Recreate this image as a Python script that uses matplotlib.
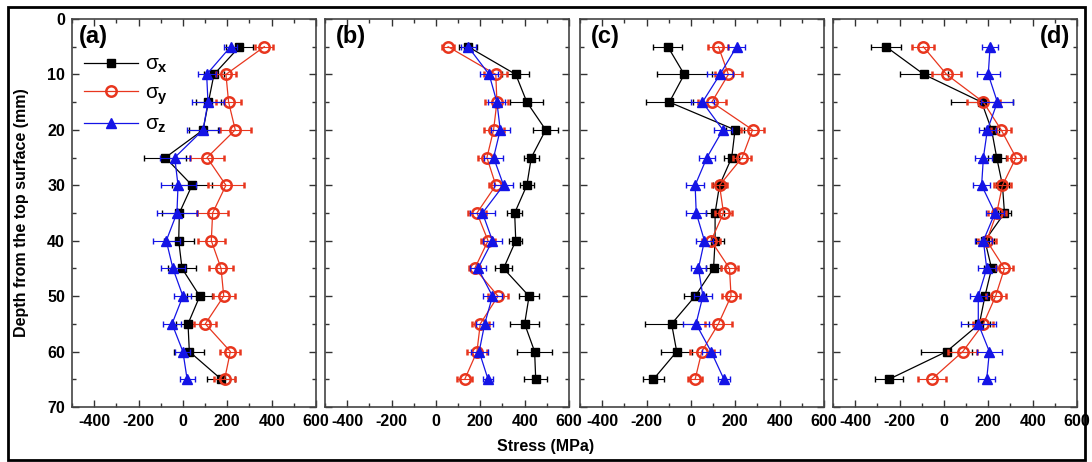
import numpy as np
import matplotlib
matplotlib.use('Agg')
import matplotlib.pyplot as plt
from matplotlib.patches import Rectangle
from matplotlib.lines import Line2D

plt.rcParams['font.family'] = ['Liberation Sans', 'DejaVu Sans']
plt.rcParams['axes.unicode_minus'] = False
plt.rcParams['mathtext.fontset'] = 'custom'
plt.rcParams['mathtext.rm'] = 'Liberation Sans'
plt.rcParams['mathtext.it'] = 'Liberation Sans'
plt.rcParams['mathtext.bf'] = 'Liberation Sans:bold'

# ── Data (MPa), depth in mm ───────────────────────────────────────────────────
depth = [5, 10, 15, 20, 25, 30, 35, 40, 45, 50, 55, 60, 65]

a_sx = [255, 140, 115, 91, -79, 41, -16, -19, -4, 76, 23, 29, 173]
a_sy = [367, 194, 206, 236, 109, 194, 134, 128, 172, 184, 101, 214, 188]
a_sz = [215, 107, 113, 91, -37, -22, -27, -75, -45, 0, -49, 0, 19]
a_ex = [60, 45, 55, 65, 95, 90, 80, 68, 64, 56, 53, 68, 64]
a_ey = [40, 45, 56, 71, 75, 83, 71, 62, 56, 49, 49, 45, 49]
a_ez = [30, 40, 70, 71, 68, 79, 90, 62, 54, 38, 41, 34, 34]

b_sx = [145, 360, 410, 495, 430, 410, 355, 360, 305, 420, 400, 445, 450]
b_sy = [55, 270, 275, 260, 230, 270, 185, 235, 175, 280, 200, 185, 130]
b_sz = [145, 240, 275, 290, 260, 305, 210, 255, 190, 255, 220, 195, 235]
b_ex = [40, 60, 75, 57, 34, 30, 34, 30, 38, 47, 64, 78, 52]
b_ey = [28, 52, 52, 45, 38, 30, 42, 30, 25, 45, 38, 45, 33]
b_ez = [34, 42, 38, 42, 42, 42, 57, 42, 38, 42, 38, 38, 22]

c_sx = [-104, -30, -97, 199, 184, 129, 109, 109, 102, 19, -87, -64, -169]
c_sy = [124, 169, 94, 278, 231, 129, 147, 91, 174, 181, 124, 49, 19]
c_sz = [206, 131, 52, 144, 72, 19, 24, 61, 34, 54, 23, 91, 149]
c_ex = [65, 125, 107, 40, 35, 30, 40, 40, 35, 50, 119, 71, 49]
c_ey = [45, 60, 63, 50, 40, 35, 40, 40, 40, 40, 62, 53, 30]
c_ez = [38, 60, 52, 40, 35, 40, 45, 40, 35, 40, 60, 42, 26]

d_sx = [-261, -90, 170, 215, 238, 264, 273, 185, 215, 185, 160, 12, -248]
d_sy = [-93, 12, 178, 258, 325, 264, 238, 193, 273, 233, 178, 85, -55]
d_sz = [208, 200, 241, 196, 178, 170, 230, 178, 193, 155, 155, 205, 193]
d_ex = [69, 107, 140, 35, 40, 30, 30, 40, 35, 30, 50, 114, 63]
d_ey = [49, 66, 75, 45, 40, 40, 40, 40, 40, 45, 45, 65, 64]
d_ez = [38, 53, 72, 40, 40, 40, 40, 40, 40, 38, 78, 56, 38]

panels = [
    ('(a)', a_sx, a_sy, a_sz, a_ex, a_ey, a_ez),
    ('(b)', b_sx, b_sy, b_sz, b_ex, b_ey, b_ez),
    ('(c)', c_sx, c_sy, c_sz, c_ex, c_ey, c_ez),
    ('(d)', d_sx, d_sy, d_sz, d_ex, d_ey, d_ez),
]

C_X, C_Y, C_Z = 'black', '#e8361e', '#1414e6'
STY_X = dict(color=C_X, marker='s', ms=6, mfc=C_X, mec=C_X)
STY_Y = dict(color=C_Y, marker='o', ms=7.5, mfc='none', mec=C_Y, mew=1.8)
STY_Z = dict(color=C_Z, marker='^', ms=6.5, mfc=C_Z, mec=C_Z)

W, H = 1092, 462
fig = plt.figure(figsize=(W / 100, H / 100), dpi=100)
lefts = [72, 325, 580, 833]
ax_w, ax_b, ax_h = 244, 55, 388

for k, (tag, sx, sy, sz, ex, ey, ez) in enumerate(panels):
    ax = fig.add_axes([lefts[k] / W, ax_b / H, ax_w / W, ax_h / H])
    ax.errorbar(sx, depth, xerr=ex, lw=0.9, elinewidth=0.8, capsize=2.5, zorder=3, **STY_X)
    ax.errorbar(sy, depth, xerr=ey, lw=0.9, elinewidth=0.8, capsize=2.5, zorder=4, **STY_Y)
    ax.errorbar(sz, depth, xerr=ez, lw=0.9, elinewidth=0.8, capsize=2.5, zorder=5, **STY_Z)

    ax.set_xlim(-500, 600)
    ax.set_ylim(70, 0)
    ax.set_xticks([-400, -200, 0, 200, 400, 600])
    ax.set_xticks(np.arange(-500, 601, 100), minor=True)
    ax.set_yticks(np.arange(0, 71, 10))
    ax.set_yticks(np.arange(0, 71, 5), minor=True)
    ax.tick_params(which='both', direction='in', top=True, right=True, width=1.0,
                   color='#333333')
    ax.tick_params(which='major', length=5, labelsize=11.5, pad=5)
    ax.tick_params(which='minor', length=3)
    for lbl in ax.get_xticklabels() + ax.get_yticklabels():
        lbl.set_fontweight('bold')
    if k > 0:
        ax.set_yticklabels([])
    for sp in ax.spines.values():
        sp.set_color('#444444')
        sp.set_linewidth(1.2)

    if tag == '(d)':
        ax.text(0.97, 0.985, tag, transform=ax.transAxes, ha='right', va='top',
                fontsize=17, fontweight='bold')
    else:
        ax.text(0.03 if k == 0 else 0.045, 0.985, tag, transform=ax.transAxes,
                ha='left', va='top', fontsize=17, fontweight='bold')

    if k == 0:
        handles = [Line2D([], [], lw=0.9, **STY_X),
                   Line2D([], [], lw=0.9, **STY_Y),
                   Line2D([], [], lw=0.9, **STY_Z)]
        labels = [r'$\sigma_\mathbf{x}$', r'$\sigma_\mathbf{y}$', r'$\sigma_\mathbf{z}$']
        ax.legend(handles, labels, loc='upper left', bbox_to_anchor=(-0.01, 0.945),
                  frameon=False, fontsize=15, handlelength=2.6, labelspacing=0.4,
                  handletextpad=0.3, borderaxespad=0.3)

fig.text(546 / W, 1 - 446 / H, 'Stress (MPa)', ha='center', va='center',
         fontsize=11.5, fontweight='bold')
fig.text(22 / W, 1 - 213 / H, 'Depth from the top surface (mm)', ha='center',
         va='center', rotation=90, fontsize=11.5, fontweight='bold')

fig.patches.append(Rectangle((8 / W, 2 / H), 1077 / W, 453 / H, transform=fig.transFigure,
                             fill=False, ec='black', lw=2.0))

fig.savefig('out.png', dpi=100)
